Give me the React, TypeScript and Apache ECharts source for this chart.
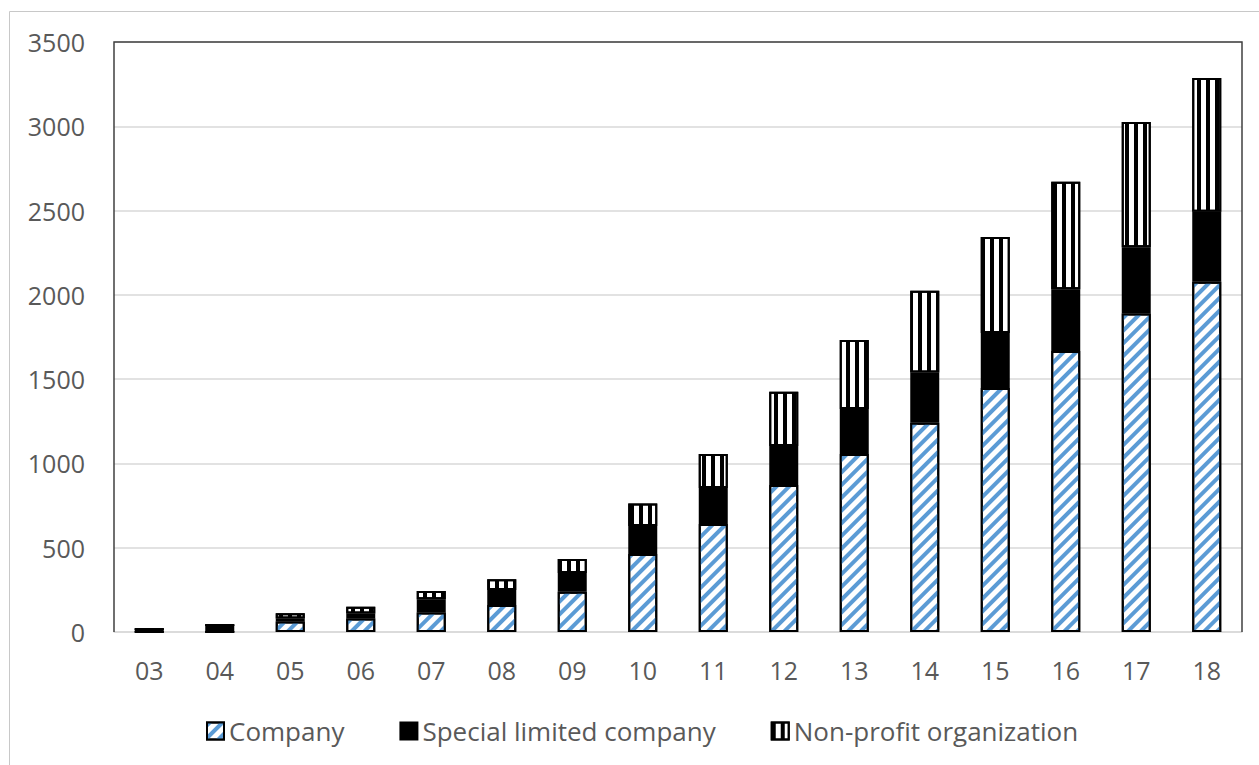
import React, { useEffect, useRef } from "react";
import * as echarts from "echarts";

const categories = ["03", "04", "05", "06", "07", "08", "09", "10", "11", "12", "13", "14", "15", "16", "17", "18"];
const company = [0, 0, 62, 80, 115, 160, 239, 463, 641, 872, 1056, 1242, 1447, 1667, 1890, 2078];
const special = [18, 42, 18, 30, 80, 89, 111, 166, 213, 231, 267, 297, 327, 366, 392, 415];
const npo = [0, 0, 31, 40, 48, 64, 83, 134, 202, 322, 409, 486, 569, 638, 743, 793];
const yTicks = { min: 0, max: 3500, interval: 500 };

const FONT = "'Open Sans', 'Noto Sans', sans-serif";
const TEXT = "#595959";

export default function App() {
  const ref = useRef<HTMLDivElement>(null);
  useEffect(() => {
    document.body.style.margin = "0";
    const chart = echarts.init(ref.current!, null, { renderer: "svg" });
    const L = 114, T = 42, R = 1242, B = 632;
    const border = { borderColor: "#000", borderWidth: 2 };
    chart.setOption({
      animation: false,
      backgroundColor: "#fff",
      grid: { left: L, top: T, right: 1259 - R, bottom: 765 - B, containLabel: false },
      legend: {
        left: 201,
        top: 713,
        itemWidth: 17,
        itemHeight: 17,
        itemGap: 55,
        icon: "rect",
        textStyle: { fontFamily: FONT, fontSize: 26, color: TEXT },
        data: ["Company", "Special limited company", "Non-profit organization"],
      },
      xAxis: {
        type: "category",
        data: categories,
        axisLine: { lineStyle: { color: "#d9d9d9", width: 1.5 } },
        axisTick: { show: false },
        axisLabel: { fontFamily: FONT, fontSize: 25, color: TEXT, margin: 25 },
      },
      yAxis: {
        type: "value",
        min: yTicks.min,
        max: yTicks.max,
        interval: yTicks.interval,
        axisLine: { show: false },
        axisTick: { show: false },
        axisLabel: { fontFamily: FONT, fontSize: 25, color: TEXT, margin: 29, formatter: (v: number) => String(v) },
        splitLine: { lineStyle: { color: "#d9d9d9", width: 1.5 } },
      },
      series: [
        {
          name: "Company",
          type: "bar",
          stack: "total",
          barWidth: 29,
          data: company,
          itemStyle: {
            color: "#ffffff",
            ...border,
            decal: {
              symbol: "rect",
              color: "#5b9bd5",
              backgroundColor: "#ffffff",
              dashArrayX: [1, 0],
              dashArrayY: [3.5, 4.5],
              symbolKeepAspect: false,
              rotation: -Math.PI / 4,
            },
          },
        },
        {
          name: "Special limited company",
          type: "bar",
          stack: "total",
          barWidth: 29,
          data: special,
          itemStyle: { color: "#000000", ...border },
        },
        {
          name: "Non-profit organization",
          type: "bar",
          stack: "total",
          barWidth: 29,
          data: npo,
          itemStyle: {
            color: "#ffffff",
            ...border,
            decal: {
              symbol: "rect",
              color: "#000000",
              backgroundColor: "#ffffff",
              dashArrayX: [4, 4.5],
              dashArrayY: [10, 0],
              symbolKeepAspect: false,
              rotation: 0,
            },
          },
        },
      ],
      graphic: [
        {
          type: "rect",
          shape: { x: 9.5, y: 11.5, width: 1400, height: 900 },
          style: { fill: "none", stroke: "#c8c8c8", lineWidth: 1 },
          silent: true,
          z: 100,
        },
        {
          type: "polyline",
          shape: { points: [[L, B], [L, T], [R, T], [R, B]] },
          style: { fill: "none", stroke: "#404040", lineWidth: 1.5 },
          silent: true,
          z: 100,
        },
      ],
    });
    return () => chart.dispose();
  }, []);
  return <div ref={ref} style={{ width: 1259, height: 765 }} />;
}
